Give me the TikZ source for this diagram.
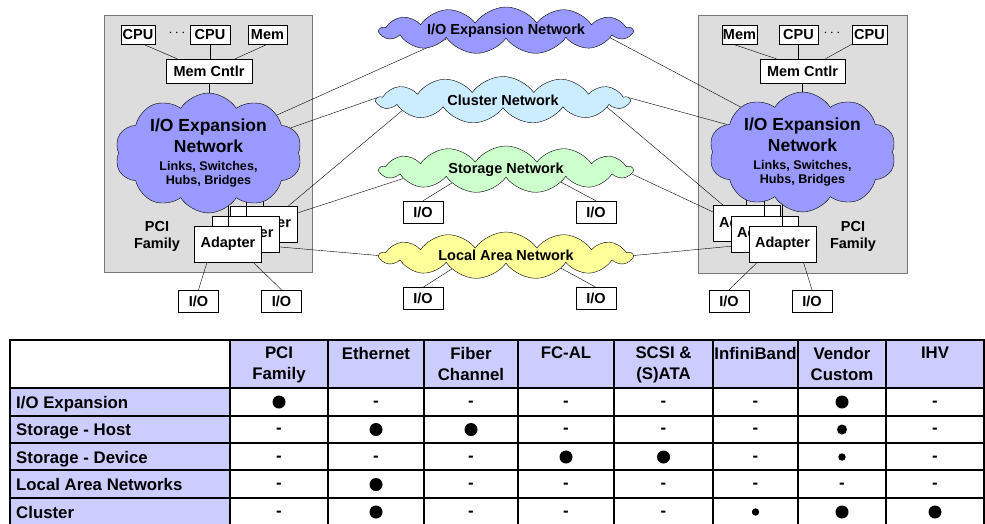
\documentclass[tikz,border=0pt]{standalone}
\usepackage{fontspec}
\setmainfont{Liberation Sans}
\usetikzlibrary{shapes.symbols}
\definecolor{sysgray}{RGB}{221,221,221}
\definecolor{sysedge}{RGB}{120,120,120}
\definecolor{ioblue}{RGB}{153,153,255}
\definecolor{clblue}{RGB}{204,236,255}
\definecolor{stgreen}{RGB}{204,255,204}
\definecolor{lanyellow}{RGB}{255,255,153}
\definecolor{hdrfill}{RGB}{204,204,255}
\pgfdeclarelayer{bg}
\pgfdeclarelayer{edges}
\pgfdeclarelayer{top}
\pgfsetlayers{bg,edges,main,top}
\newcommand\subtxt{\fontsize{12.6}{13}\selectfont}

\begin{document}
\begin{tikzpicture}[x=1pt,y=-1pt,line width=0.8pt]
    \tikzstyle{every node}+=[font=\bfseries\fontsize{14.5}{17}\selectfont]
    \tikzstyle{unit}=[draw, fill=white, inner sep=1pt, minimum height=19pt]
    \tikzstyle{iobox}=[draw, fill=white, inner sep=1pt, minimum width=40pt, minimum height=22pt]
    \tikzstyle{adapter}=[draw, fill=white, inner sep=1pt, minimum width=67pt, minimum height=36pt]
    \tikzstyle{netcloud}=[cloud, draw, cloud puffs=13, cloud puff arc=110, cloud ignores aspect, minimum width=252pt, minimum height=47pt, inner sep=0pt]
    \tikzstyle{syscloud}=[cloud, draw, fill=ioblue, cloud puffs=10, cloud puff arc=115, cloud ignores aspect, minimum width=187pt, minimum height=112pt, inner sep=0pt, align=center, font=\bfseries\fontsize{17.5}{21}\selectfont]
    \tikzstyle{cell}=[inner sep=0pt, font=\bfseries\fontsize{16.8}{21}\selectfont]
    \tikzstyle{dot}=[circle, fill=black, inner sep=0pt]

    \useasboundingbox (0,0) rectangle (985,523);

    % system boxes
    \begin{pgfonlayer}{bg}
        \draw[sysedge, fill=sysgray] (104,15) rectangle (312,272);
        \draw[sysedge, fill=sysgray] (698,15) rectangle (907,273);
    \end{pgfonlayer}

    % left host
    \node[unit, minimum width=34pt] (lcpu1) at (138,34.5) {CPU};
    \node (ldots) at (177,33) {$\cdots$};
    \node[unit, minimum width=40pt] (lcpu2) at (210,34.5) {CPU};
    \node[unit, minimum width=39pt] (lmem) at (267.5,34.5) {Mem};
    \node[unit, minimum width=86pt, minimum height=24pt] (lmc) at (209,71) {Mem Cntlr};
    \begin{pgfonlayer}{top}
        \node[syscloud] (lnet) at (208.5,153) {I/O Expansion\\Network\\[-3pt]\subtxt Links, Switches,\\[-7pt]\subtxt Hubs, Bridges};
    \end{pgfonlayer}
    \node[adapter] (lad3) at (263.5,224) {Adapter};
    \node[adapter] (lad2) at (246,234) {Adapter};
    \node[adapter] (lad1) at (228,244) {Adapter};
    \node[align=center] (lpci) at (157,236) {PCI\\Family};
    \node[iobox] (lio1) at (198.5,301) {I/O};
    \node[iobox] (lio2) at (281.5,301) {I/O};
    \draw (lcpu1.298) -- (lmc.159);
    \draw (lcpu2.south) -- (lcpu2.south |- lmc.north);
    \draw (lmem.south) -- (lmc.25);
    \draw (lmc.south) -- (lmc.south |- lnet.center);
    \draw (lad3.north) -- (lad3.north |- lnet.center);
    \draw (lad2.north) -- (lad2.north |- lnet.center);
    \draw (lad1.north) -- (lad1.north |- lnet.center);
    \draw (lad1.221) -- (lio1.north);
    \draw (lad1.324) -- (lio2.north);

    % right host
    \node[unit, minimum width=35pt] (rmem) at (739.5,34.5) {Mem};
    \node[unit, minimum width=39pt] (rcpu1) at (798.5,34.5) {CPU};
    \node (rdots) at (832,33) {$\cdots$};
    \node[unit, minimum width=35pt] (rcpu2) at (869.5,34.5) {CPU};
    \node[unit, minimum width=85pt, minimum height=24pt] (rmc) at (802.5,71) {Mem Cntlr};
    \begin{pgfonlayer}{top}
        \node[syscloud] (rnet) at (802.5,152) {I/O Expansion\\Network\\[-3pt]\subtxt Links, Switches,\\[-7pt]\subtxt Hubs, Bridges};
    \end{pgfonlayer}
    \node[adapter] (rad3) at (746.5,223.5) {Adapter};
    \node[adapter] (rad2) at (764.5,234) {Adapter};
    \node[adapter] (rad1) at (782.5,244) {Adapter};
    \node[align=center] (rpci) at (853,236) {PCI\\Family};
    \node[iobox] (rio1) at (729,301) {I/O};
    \node[iobox] (rio2) at (812,301) {I/O};
    \draw (rmem.236) -- (rmc.155);
    \draw (rcpu1.south) -- (rcpu1.south |- rmc.north);
    \draw (rcpu2.south west) -- (rmc.28);
    \draw (rmc.south) -- (rmc.south |- rnet.center);
    \draw (rad3.north) -- (rad3.north |- rnet.center);
    \draw (rad2.north) -- (rad2.north |- rnet.center);
    \draw (rad1.north) -- (rad1.north |- rnet.center);
    \draw (rad1.216) -- (rio1.north);
    \draw (rad1.319) -- (rio2.north);

    % networks
    \node[netcloud, fill=ioblue] (ionet) at (506,30.5) {I/O Expansion Network};
    \node[netcloud, fill=clblue] (clnet) at (503,100) {Cluster Network};
    \node[netcloud, fill=stgreen] (stnet) at (506,169.5) {Storage Network};
    \node[netcloud, fill=lanyellow] (lannet) at (506,255.5) {Local Area Network};
    \node[iobox] (stio1) at (423,212) {I/O};
    \node[iobox] (stio2) at (596,212) {I/O};
    \node[iobox] (lanio1) at (423,298.5) {I/O};
    \node[iobox] (lanio2) at (596,298.5) {I/O};

    \begin{pgfonlayer}{edges}
        \draw (lnet.29) -- (ionet.188);
        \draw (lnet.17) -- (clnet.179);
        \draw (lad3.36) -- (clnet.186);
        \draw (lad3.18) -- (stnet.185);
        \draw (lad2.339) -- (lannet.180);
        \draw (ionet.356) -- (rnet.144);
        \draw (clnet.1) -- (rnet.160);
        \draw (clnet.356) -- (rad3.142);
        \draw (stnet.358) -- (rad3.161);
        \draw (lannet.0) -- (rad2.200);
        \draw (stnet.194) -- (stio1.north);
        \draw (stnet.347) -- (stio2.north);
        \draw (lannet.194) -- (lanio1.north);
        \draw (lannet.347) -- (lanio2.north);
    \end{pgfonlayer}

    % table
    \fill[hdrfill] (230,340) rectangle (984,388);
    \fill[hdrfill] (10,388) rectangle (230,526);
    \foreach \x in {230,328,424,518,614,713,798,886}
        \draw[line width=1.2pt] (\x,340) -- (\x,526);
    \foreach \y in {388,416,443,470,498}
        \draw[line width=1.2pt] (10,\y) -- (984,\y);
    \draw[line width=1.8pt] (10,526) -- (10,340) -- (984,340) -- (984,526);
    \foreach \hd [count=\c] in {PCI\\Family, Ethernet, Fiber\\Channel, FC-AL, SCSI \&\\(S)ATA, InfiniBand, Vendor\\Custom, IHV} {
        \pgfmathsetmacro\cx{{279,376,471,566,663.5,755.5,842,935}[\c-1]}
        \node[cell, align=center, anchor=north] (hd-\c) at (\cx,347) {\hd};
    }
    \foreach \lab [count=\r] in {I/O Expansion, Storage - Host, Storage - Device, Local Area Networks, Cluster}
        \node[cell, anchor=base west] (rl-\r) at (16,{408+27.5*(\r-1)}) {\lab};
    \foreach \vals [count=\r] in {{6.5,0,0,0,0,0,6.5,0},{0,6.5,6.5,0,0,0,5,0},{0,0,0,6.5,6.5,0,3.7,0},{0,6.5,0,0,0,0,0,0},{0,6.5,0,0,0,3.7,6.5,6.5}} {
        \foreach \v [count=\c] in \vals {
            \pgfmathsetmacro\cx{{279,376,471,566,663.5,755.5,842,935}[\c-1]}
            \pgfmathsetmacro\cy{402+27.5*(\r-1)}
            \ifdim\v pt>0pt
                \node[dot, minimum size=2*\v pt] (d-\r-\c) at (\cx,\cy) {};
            \else
                \node[cell, anchor=base] (d-\r-\c) at (\cx,\cy+4) {-};
            \fi
        }
    }
\end{tikzpicture}
\end{document}
